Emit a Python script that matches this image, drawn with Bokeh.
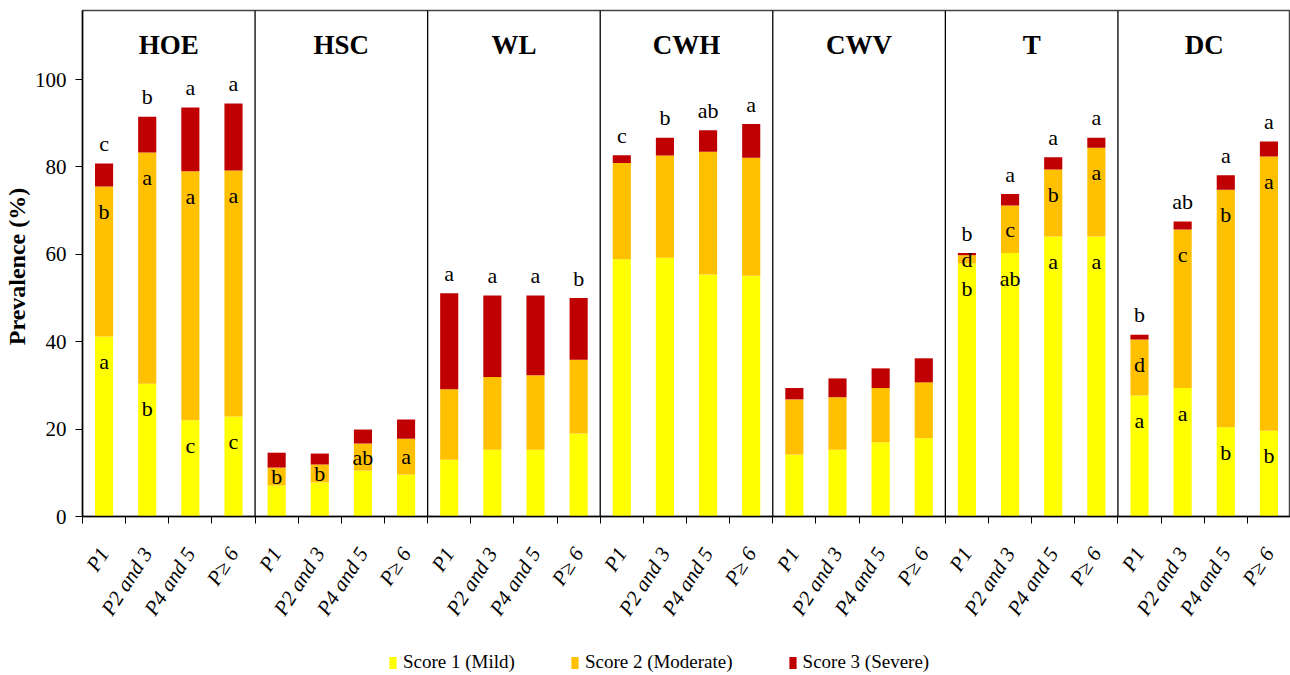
from bokeh.plotting import figure
from bokeh.layouts import column
from bokeh.models import (ColumnDataSource, FixedTicker, Range1d, Span, Legend,
                          LegendItem, CustomJSTickFormatter)
from bokeh.core.properties import value
from bokeh.embed import file_html
from bokeh.resources import INLINE

# ---------------- data ----------------
panels = ["HOE", "HSC", "WL", "CWH", "CWV", "T", "DC"]
groups = ["P1", "P2 and 3", "P4 and 5", "P\u2265 6"]

# prevalence (%) of each score, 4 groups per panel in the order of `panels`
score1_mild = [41.2, 30.4, 22.0, 22.9,
               7.1, 7.8, 10.5, 9.6,
               13.0, 15.3, 15.3, 19.0,
               58.9, 59.2, 55.4, 55.1,
               14.2, 15.3, 17.0, 17.9,
               57.9, 60.3, 64.1, 64.1,
               27.7, 29.4, 20.4, 19.6]
score2_moderate = [34.3, 52.9, 57.0, 56.3,
                   4.1, 4.1, 6.2, 8.2,
                   16.1, 16.6, 17.0, 16.9,
                   22.0, 23.4, 28.1, 27.0,
                   12.6, 12.0, 12.4, 12.8,
                   1.9, 10.9, 15.3, 20.3,
                   12.8, 36.3, 54.4, 62.8]
score3_severe = [5.3, 8.2, 14.6, 15.3,
                 3.4, 2.5, 3.2, 4.4,
                 22.0, 18.7, 18.3, 14.1,
                 1.8, 4.1, 4.9, 7.7,
                 2.6, 4.3, 4.5, 5.5,
                 0.5, 2.6, 2.8, 2.3,
                 1.1, 1.8, 3.3, 3.4]

# significance letters
letters_total = ["c", "b", "a", "a",
                 "", "", "", "",
                 "a", "a", "a", "b",
                 "c", "b", "ab", "a",
                 "", "", "", "",
                 "b", "a", "a", "a",
                 "b", "ab", "a", "a"]
letters_score2 = ["b", "a", "a", "a",
                  "b", "b", "ab", "a",
                  "", "", "", "",
                  "", "", "", "",
                  "", "", "", "",
                  "d", "c", "b", "a",
                  "d", "c", "b", "a"]
letters_score1 = ["a", "b", "c", "c",
                  "", "", "", "",
                  "", "", "", "",
                  "", "", "", "",
                  "", "", "", "",
                  "b", "ab", "a", "a",
                  "a", "a", "b", "b"]

legend_labels = ["Score 1 (Mild)", "Score 2 (Moderate)", "Score 3 (Severe)"]

YELLOW, ORANGE, RED = "#FFFF00", "#FFC000", "#C00000"
COLORS = [YELLOW, ORANGE, RED]
SERIF = "Liberation Serif"

n = len(score1_mild)
xs = [i + 0.5 for i in range(n)]
labels_x = [groups[i % 4] for i in range(n)]

src = ColumnDataSource(dict(x=xs, s1=score1_mild, s2=score2_moderate, s3=score3_severe))

YMAX = 115.8
W = 1290
H_MAIN = 631
H_LEG = 44
LEFT = 81
FRAME_TOP, FRAME_BOTTOM_BORDER = 10, H_MAIN - 516

p = figure(width=W, height=H_MAIN, output_backend="svg", toolbar_location=None,
           x_range=Range1d(0, n), y_range=Range1d(0, YMAX),
           min_border_left=LEFT, min_border_right=0, min_border_top=FRAME_TOP,
           min_border_bottom=FRAME_BOTTOM_BORDER)
p.xgrid.visible = False
p.ygrid.visible = False
p.outline_line_color = "#444444"
p.outline_line_width = 1.5
p.background_fill_color = "white"
p.border_fill_color = "white"

rs = p.vbar_stack(["s1", "s2", "s3"], x="x", width=0.42, source=src,
                  color=COLORS, line_color=None)

# panel separators
for k in range(1, len(panels)):
    p.add_layout(Span(location=4 * k, dimension="height", line_color="black",
                      line_width=1.3))

# panel titles
p.text(x=[4 * k + 2 for k in range(len(panels))], y=[107.8] * len(panels),
       text=panels, text_font=value(SERIF), text_font_size="27px",
       text_font_style="bold", text_align="center", text_baseline="middle",
       text_color="black")

# letters
top_tot = [a + b + c for a, b, c in zip(score1_mild, score2_moderate, score3_severe)]
top_s2 = [a + b for a, b in zip(score1_mild, score2_moderate)]
px_per_unit = (516 - FRAME_TOP) / YMAX
d_in = 25.0 / px_per_unit


def inner_y(bottom, top):
    return max(top - d_in, (bottom + top) / 2.0)


tx, ty, tt = [], [], []
for i in range(n):
    if letters_total[i]:
        tx.append(xs[i]); ty.append(top_tot[i]); tt.append(letters_total[i])
p.text(x=tx, y=ty, text=tt, text_font=value(SERIF), text_font_size="22px",
       text_align="center", text_baseline="middle", y_offset=-20, text_color="black")

ix, iy, it = [], [], []
for i in range(n):
    if letters_score2[i]:
        ix.append(xs[i]); iy.append(inner_y(score1_mild[i], top_s2[i])); it.append(letters_score2[i])
    if letters_score1[i]:
        ix.append(xs[i]); iy.append(inner_y(0, score1_mild[i])); it.append(letters_score1[i])
p.text(x=ix, y=iy, text=it, text_font=value(SERIF), text_font_size="22px",
       text_align="center", text_baseline="middle", text_color="black")

# x axis
xa = p.xaxis[0]
xa.ticker = FixedTicker(ticks=xs, minor_ticks=list(range(n + 1)))
xa.formatter = CustomJSTickFormatter(args=dict(labels=labels_x),
                                     code="return labels[Math.floor(tick)];")
xa.major_tick_out = 0
xa.major_tick_in = 0
xa.minor_tick_out = 7
xa.minor_tick_in = 0
xa.minor_tick_line_color = "black"
xa.axis_line_color = "black"
xa.axis_line_width = 1.5
xa.major_label_orientation = 1.0
xa.major_label_standoff = 26
xa.major_label_text_font = SERIF
xa.major_label_text_font_style = "italic"
xa.major_label_text_font_size = "21px"
xa.major_label_text_color = "black"

# y axis
ya = p.yaxis[0]
ya.ticker = FixedTicker(ticks=[0, 20, 40, 60, 80, 100], minor_ticks=[])
ya.major_tick_out = 7
ya.major_tick_in = 0
ya.minor_tick_out = 0
ya.minor_tick_in = 0
ya.axis_line_color = "black"
ya.axis_line_width = 1.5
ya.major_label_standoff = 9
ya.major_label_text_font = SERIF
ya.major_label_text_font_size = "21px"
ya.major_label_text_color = "black"
ya.axis_label = "Prevalence  (%)"
ya.axis_label_text_font = SERIF
ya.axis_label_text_font_size = "24px"
ya.axis_label_text_font_style = "bold"
ya.axis_label_standoff = 2
ya.axis_label_text_color = "black"

# legend, drawn in a strip below the chart (its frame is aligned with the chart frame)
lf = figure(width=W, height=H_LEG, output_backend="svg", toolbar_location=None,
            x_range=Range1d(0, 1), y_range=Range1d(0, 1),
            x_axis_location=None, y_axis_location=None,
            min_border_left=0, min_border_right=0, min_border_top=0,
            min_border_bottom=0)
lf.xgrid.visible = False
lf.ygrid.visible = False
lf.outline_line_color = None
lf.background_fill_color = "white"
lf.border_fill_color = "white"
# zero-height stand-in bars so the legend has glyphs to draw
proxy = ColumnDataSource(dict(x=[0.5], top=[0.0]))
items = []
for lab, col in zip(legend_labels, COLORS):
    r = lf.vbar(x="x", top="top", bottom=0.0, width=0.0, source=proxy,
                fill_color=col, line_color=None)
    items.append(LegendItem(label=lab, renderers=[r]))
legend = Legend(items=items, orientation="horizontal", location=(387 - LEFT, 2))
legend.padding = 0
legend.margin = 0
legend.spacing = 55
legend.glyph_width = 9
legend.glyph_height = 15
legend.label_standoff = 6
legend.label_text_font = SERIF
legend.label_text_font_size = "19px"
legend.label_text_color = "black"
legend.border_line_color = None
legend.background_fill_alpha = 0
lf.add_layout(legend, "center")

layout = column(p, lf, spacing=0)
open("out.html", "w").write(file_html(layout, INLINE))
